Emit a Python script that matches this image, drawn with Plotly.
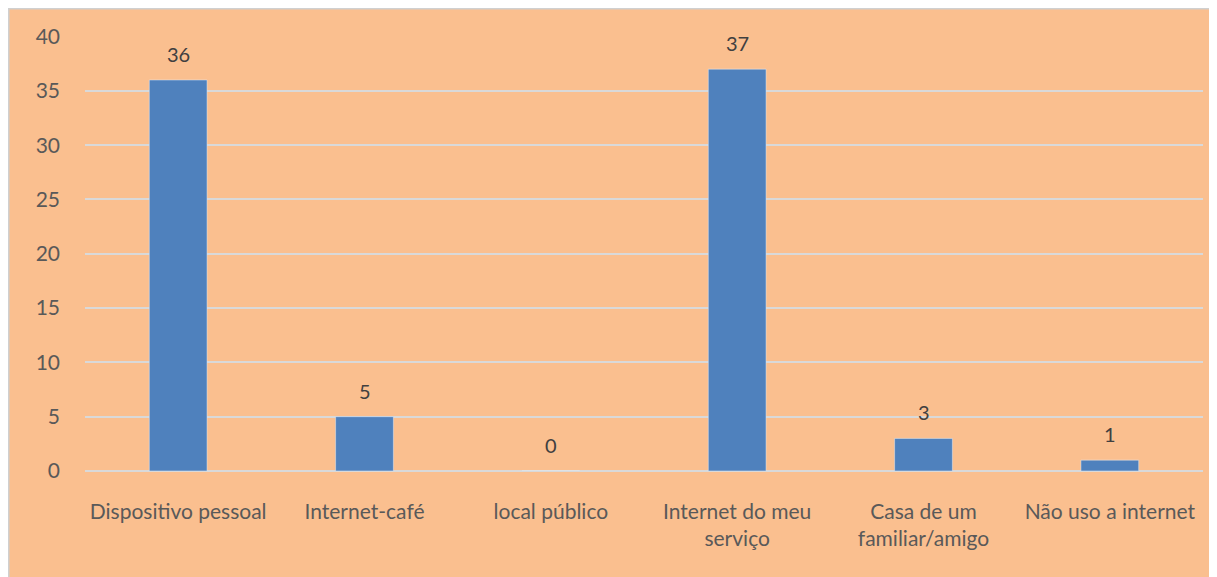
import plotly.graph_objects as go

categories = ["Dispositivo pessoal", "Internet-café", "local público",
              "Internet do meu<br>serviço", "Casa de um<br>familiar/amigo", "Não uso a internet"]
values = [36, 5, 0, 37, 3, 1]
y_ticks = [0, 5, 10, 15, 20, 25, 30, 35, 40]

PEACH = "#FABF8F"
BAR = "#4F81BD"
GRID = "#D9D9D9"
TXT = "#595959"
FONT = "Lato, 'Open Sans', sans-serif"

fig = go.Figure(go.Bar(
    x=categories, y=values, marker_color=BAR, width=0.31,
))

for c, v in zip(categories, values):
    fig.add_annotation(x=c, y=v, text=str(v), showarrow=False, yanchor="bottom", yshift=12,
                       font=dict(size=20, color="#404040", family=FONT))

fig.update_layout(
    width=1209, height=569,
    margin=dict(l=77, r=14, t=28, b=106),
    paper_bgcolor=PEACH, plot_bgcolor=PEACH,
    showlegend=False,
    font=dict(family=FONT, color=TXT, size=21),
    xaxis=dict(showgrid=False, showline=False, ticks="", tickfont=dict(size=21, color=TXT),
               ticklabelstandoff=26),
    yaxis=dict(range=[0, 40.05], tickvals=y_ticks, showgrid=True, gridcolor=GRID, gridwidth=1.5,
               zeroline=True, zerolinecolor=GRID, zerolinewidth=1.5,
               tickfont=dict(size=21, color=TXT), ticklabelstandoff=24),
    shapes=[
        dict(type="line", xref="paper", yref="paper", x0=-0.1, x1=1.1, y0=1.0632, y1=1.0632,
             line=dict(color="#D0D0D0", width=2)),
        dict(type="line", xref="paper", yref="paper", x0=-0.0684, x1=-0.0684, y0=-0.3, y1=1.1,
             line=dict(color="#D0D0D0", width=2)),
    ],
)

fig.write_html("out.html")
